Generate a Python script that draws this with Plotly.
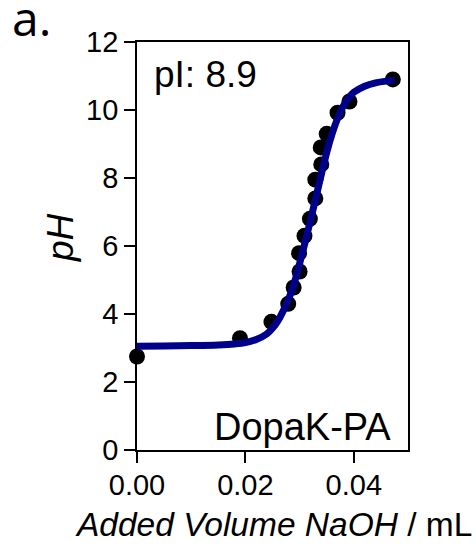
import plotly.graph_objects as go

# Measured titration points
vol_points = [0.0, 0.0190, 0.0248, 0.0279, 0.0289, 0.0300, 0.0299, 0.0309, 0.0319,
              0.0329, 0.0329, 0.0340, 0.0339, 0.0350, 0.0370, 0.0392, 0.0472]
ph_points = [2.75, 3.29, 3.77, 4.30, 4.78, 5.25, 5.79, 6.30, 6.80,
             7.40, 7.95, 8.40, 8.90, 9.30, 9.92, 10.25, 10.90]

# Fitted curve
vol_fit = [0.000, 0.005, 0.010, 0.015, 0.018, 0.020, 0.022, 0.024, 0.025, 0.026,
           0.027, 0.028, 0.029, 0.030, 0.031, 0.032, 0.033, 0.034, 0.035, 0.036,
           0.037, 0.038, 0.039, 0.040, 0.042, 0.044, 0.046, 0.0475]
ph_fit = [3.05, 3.06, 3.07, 3.09, 3.12, 3.16, 3.25, 3.42, 3.58, 3.80,
          4.10, 4.45, 4.90, 5.48, 6.10, 6.75, 7.42, 8.10, 8.75, 9.30,
          9.75, 10.10, 10.35, 10.52, 10.70, 10.80, 10.85, 10.87]

x_ticks = [0.0, 0.02, 0.04]
y_ticks = [0, 2, 4, 6, 8, 10, 12]

FONT = "Liberation Sans, Arial, sans-serif"

fig = go.Figure()
fig.add_trace(go.Scatter(x=vol_points, y=ph_points, mode="markers",
                         marker=dict(color="black", size=16),
                         cliponaxis=False, showlegend=False))
fig.add_trace(go.Scatter(x=vol_fit, y=ph_fit, mode="lines",
                         line=dict(color="#00008B", width=7, shape="spline"),
                         cliponaxis=False, showlegend=False))

L, R, T, B = 137, 68, 42, 100
W, H = 476, 550
pw, ph = W - L - R, H - T - B

def px(xp):
    return (xp - L) / pw

def py(yp):
    return (H - B - yp) / ph

fig.update_layout(
    width=W, height=H, autosize=False,
    margin=dict(l=L, r=R, t=T, b=B, pad=0),
    paper_bgcolor="white", plot_bgcolor="white",
    font=dict(family=FONT, color="black", size=29),
    xaxis=dict(range=[0, 0.05], tickvals=x_ticks, tickformat=".2f",
               ticks="outside", ticklen=11, tickwidth=1.8, tickcolor="black",
               showline=True, linecolor="black", linewidth=1.8, mirror=True,
               showgrid=False, zeroline=False, ticklabelstandoff=-3,
               tickfont=dict(size=29, family=FONT)),
    yaxis=dict(range=[0, 12], tickvals=y_ticks,
               ticks="outside", ticklen=11, tickwidth=1.8, tickcolor="black",
               showline=True, linecolor="black", linewidth=1.8, mirror=True,
               showgrid=False, zeroline=False,
               tickfont=dict(size=29, family=FONT)),
)

annotations = [
    dict(text="<i>Added Volume NaOH</i> / mL", x=px(273), y=py(524),
         xanchor="center", yanchor="middle", font=dict(size=33.5, family=FONT)),
    dict(text="<i>pH</i>", x=px(61), y=py(238), textangle=-90,
         xanchor="center", yanchor="middle", font=dict(size=37, family=FONT)),
    dict(text="pI: 8.9", x=px(152), y=py(74), xanchor="left", yanchor="middle",
         font=dict(size=37, family=FONT)),
    dict(text="DopaK-PA", x=px(393), y=py(427), xanchor="right", yanchor="middle",
         font=dict(size=38, family=FONT)),
    dict(text="a.", x=px(10), y=py(17), xanchor="left", yanchor="middle",
         font=dict(size=48, family="Open Sans, sans-serif")),
]
for a in annotations:
    a.update(xref="paper", yref="paper", showarrow=False)
fig.update_layout(annotations=annotations)

fig.write_html("out.html")
